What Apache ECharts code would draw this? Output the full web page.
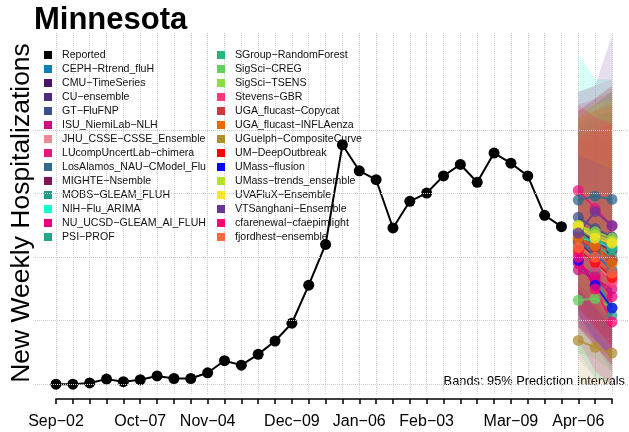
<!DOCTYPE html>
<html>
<head>
<meta charset="utf-8">
<script src="https://cdn.jsdelivr.net/npm/echarts@6/dist/echarts.min.js"></script>
<style>
  html, body { margin: 0; padding: 0; background: #fff; }
  #chart { width: 629px; height: 432px; }
</style>
</head>
<body>
<div id="chart"></div>
<script>
// weekly dates on the x axis
const weeks = ['Sep−02', 'Sep−09', 'Sep−16', 'Sep−23', 'Sep−30', 'Oct−07', 'Oct−14', 'Oct−21', 'Oct−28',
  'Nov−04', 'Nov−11', 'Nov−18', 'Nov−25', 'Dec−02', 'Dec−09', 'Dec−16', 'Dec−23', 'Dec−30',
  'Jan−06', 'Jan−13', 'Jan−20', 'Jan−27', 'Feb−03', 'Feb−10', 'Feb−17', 'Feb−24',
  'Mar−02', 'Mar−09', 'Mar−16', 'Mar−23', 'Mar−30', 'Apr−06', 'Apr−13', 'Apr−20']
const tickLabels = ['Sep−02', 'Oct−07', 'Nov−04', 'Dec−09', 'Jan−06', 'Feb−03', 'Mar−09', 'Apr−06']
const gridLevels = [0, 100, 200, 300, 400]

const reported = [0, 0, 2, 8, 4, 7, 13, 9, 9, 18, 37, 30, 47, 68, 96, 156, 220, 377,
  336, 322, 246, 288, 301, 328, 346, 318, 364, 348, 328, 266, 248]

const models = ['CEPH−Rtrend_fluH', 'CMU−TimeSeries', 'CU−ensemble', 'GT−FluFNP', 'ISU_NiemiLab−NLH',
  'JHU_CSSE−CSSE_Ensemble', 'LUcompUncertLab−chimera', 'LosAlamos_NAU−CModel_Flu', 'MIGHTE−Nsemble',
  'MOBS−GLEAM_FLUH', 'NIH−Flu_ARIMA', 'NU_UCSD−GLEAM_AI_FLUH', 'PSI−PROF', 'SGroup−RandomForest',
  'SigSci−CREG', 'SigSci−TSENS', 'Stevens−GBR', 'UGA_flucast−Copycat', 'UGA_flucast−INFLAenza',
  'UGuelph−CompositeCurve', 'UM−DeepOutbreak', 'UMass−flusion', 'UMass−trends_ensemble',
  'UVAFluX−Ensemble', 'VTSanghani−Ensemble', 'cfarenewal−cfaepimlight', 'fjordhest−ensemble']
const modelColors = ['#0e7fb5', '#4a1467', '#4b2b7f', '#3b4f8c', '#cc0e82', '#e98a94', '#e6167f',
  '#2f6a8e', '#7c1357', '#24998c', '#0fffcf', '#e8007e', '#22a487', '#2ab57f', '#62cf5e', '#8bdc44',
  '#ff3a77', '#cc3b3b', '#ea6a00', '#b08f31', '#ff0000', '#0000ff', '#b5e02b', '#ffe41f', '#6a349a',
  '#ff0670', '#ff6940']

// forecasts for Apr-06, Apr-13, Apr-20
const fcPoint = [[230, 205, 180], [240, 225, 210], [225, 200, 175], [263, 245, 232], [180, 165, 150],
  [215, 190, 165], [305, 277, 249], [290, 296, 291], [235, 215, 195], [220, 180, 108], [230, 225, 215],
  [190, 170, 138], [245, 230, 215], [240, 220, 200], [132, 135, 120], [250, 240, 230], [205, 185, 160],
  [225, 215, 195], [230, 218, 190], [69, 58, 49], [211, 192, 168], [195, 156, 120], [250, 235, 225],
  [248, 230, 222], [238, 272, 250], [200, 150, 98], [215, 200, 175]]
const fcLower = [[130, 100, 70], [150, 120, 90], [110, 80, 50], [160, 130, 110], [90, 60, 40],
  [40, 10, 0], [180, 140, 100], [170, 150, 120], [90, 60, 30], [110, 60, 20], [50, 10, -10],
  [90, 60, 30], [140, 100, 70], [130, 100, 70], [50, 40, 20], [150, 120, 100], [100, 60, 30],
  [120, 90, 60], [130, 90, 60], [-5, -10, -15], [120, 90, 60], [110, 70, 40], [160, 130, 100],
  [150, 120, 90], [90, 70, 40], [70, 20, -10], [110, 80, 50]]
const fcUpper = [[420, 430, 450], [400, 420, 440], [430, 450, 470], [410, 420, 430], [380, 400, 420],
  [460, 470, 480], [440, 450, 460], [400, 410, 420], [430, 440, 460], [400, 380, 360], [520, 480, 470],
  [380, 390, 380], [420, 440, 460], [410, 420, 430], [330, 350, 370], [420, 430, 440], [400, 410, 420],
  [420, 430, 440], [430, 450, 470], [300, 320, 340], [390, 400, 410], [360, 350, 340], [420, 440, 460],
  [430, 440, 450], [460, 470, 550], [440, 420, 400], [420, 430, 440]]

const chart = echarts.init(document.getElementById('chart'))
const fontFam = 'Liberation Sans, Arial, sans-serif'
const nLead = weeks.length - 3

function padSeries(vals) {
  return new Array(nLead).fill(null).concat(vals)
}

const series = [
  {
    // horizontal grid lines, spanning the full plot region
    type: 'line',
    xAxisIndex: 0,
    yAxisIndex: 0,
    data: [],
    silent: true,
    markLine: {
      silent: true,
      symbol: 'none',
      label: { show: false },
      lineStyle: { color: '#cccccc', type: 'dotted', width: 1 },
      data: gridLevels.map(v => ({ yAxis: v }))
    }
  }
]

// prediction bands
models.forEach((m, i) => {
  series.push({
    name: m + ' lo',
    type: 'line',
    xAxisIndex: 1,
    yAxisIndex: 1,
    stack: 'band' + i,
    data: padSeries(fcLower[i]),
    symbol: 'none',
    silent: true,
    lineStyle: { opacity: 0 },
    z: 1
  })
  series.push({
    name: m + ' hi',
    type: 'line',
    xAxisIndex: 1,
    yAxisIndex: 1,
    stack: 'band' + i,
    data: padSeries(fcUpper[i].map((u, k) => u - fcLower[i][k])),
    symbol: 'none',
    silent: true,
    lineStyle: { opacity: 0 },
    areaStyle: { color: modelColors[i], opacity: 0.16 },
    z: 1
  })
})

// forecast medians
models.forEach((m, i) => {
  series.push({
    name: m,
    type: 'line',
    xAxisIndex: 1,
    yAxisIndex: 1,
    color: modelColors[i],
    data: padSeries(fcPoint[i]),
    symbol: 'circle',
    symbolSize: 11,
    showAllSymbol: true,
    lineStyle: { width: 2, opacity: 0.8 },
    itemStyle: { opacity: 0.75 },
    z: 3
  })
})

series.push({
  name: 'Reported',
  type: 'line',
  xAxisIndex: 1,
  yAxisIndex: 1,
  color: '#000',
  data: reported,
  symbol: 'circle',
  symbolSize: 11,
  showAllSymbol: true,
  lineStyle: { width: 2, color: '#000' },
  z: 4
})

const legendBase = {
  orient: 'vertical',
  icon: 'rect',
  itemWidth: 8,
  itemHeight: 8,
  itemGap: 0,
  padding: 0,
  selectedMode: false,
  itemStyle: { opacity: 1 },
  textStyle: { fontSize: 10.6, lineHeight: 14, color: '#111', fontFamily: fontFam, padding: [0, 0, 0, 5] }
}

const option = {
  animation: false,
  title: {
    text: 'Minnesota',
    left: 34,
    top: 5,
    padding: 0,
    textStyle: { fontSize: 31, fontWeight: 'bold', color: '#000', fontFamily: fontFam }
  },
  legend: [
    Object.assign({ left: 44, top: 48, data: ['Reported'].concat(models.slice(0, 13)) }, legendBase),
    Object.assign({ left: 217, top: 48, data: models.slice(13) }, legendBase)
  ],
  grid: [
    { left: 35, right: 0, top: 33, bottom: 37 },
    { left: 56, right: 17, top: 33, bottom: 37 }
  ],
  xAxis: [
    { gridIndex: 0, type: 'value', min: 0, max: 1, show: false },
    {
      gridIndex: 1,
      type: 'category',
      data: weeks,
      boundaryGap: false,
      offset: 4,
      axisLine: { onZero: false, lineStyle: { color: '#000', width: 1.5 } },
      axisTick: { interval: 0, length: 5, lineStyle: { color: '#000', width: 1.5 } },
      axisLabel: {
        interval: (idx, val) => tickLabels.indexOf(val) >= 0,
        margin: 15,
        fontSize: 16,
        color: '#000',
        fontFamily: fontFam
      },
      splitLine: { show: true, interval: 0, lineStyle: { color: '#d0d0d0', type: 'dotted', width: 1 } }
    }
  ],
  yAxis: [
    { gridIndex: 0, type: 'value', min: -17, max: 553, show: false },
    { gridIndex: 1, type: 'value', min: -17, max: 553, show: false }
  ],
  graphic: [
    {
      type: 'text',
      x: 22,
      y: 213,
      rotation: Math.PI / 2,
      style: {
        text: 'New Weekly Hospitalizations',
        fontSize: 26.5,
        fontFamily: fontFam,
        fill: '#000',
        align: 'center',
        verticalAlign: 'middle',
        textAlign: 'center',
        textVerticalAlign: 'middle'
      }
    },
    {
      type: 'text',
      right: 4,
      top: 375,
      style: {
        text: 'Bands: 95% Prediction Intervals',
        fontSize: 12.8,
        fontFamily: fontFam,
        fill: '#000'
      }
    }
  ],
  series: series
}

chart.setOption(option)
</script>
</body>
</html>
